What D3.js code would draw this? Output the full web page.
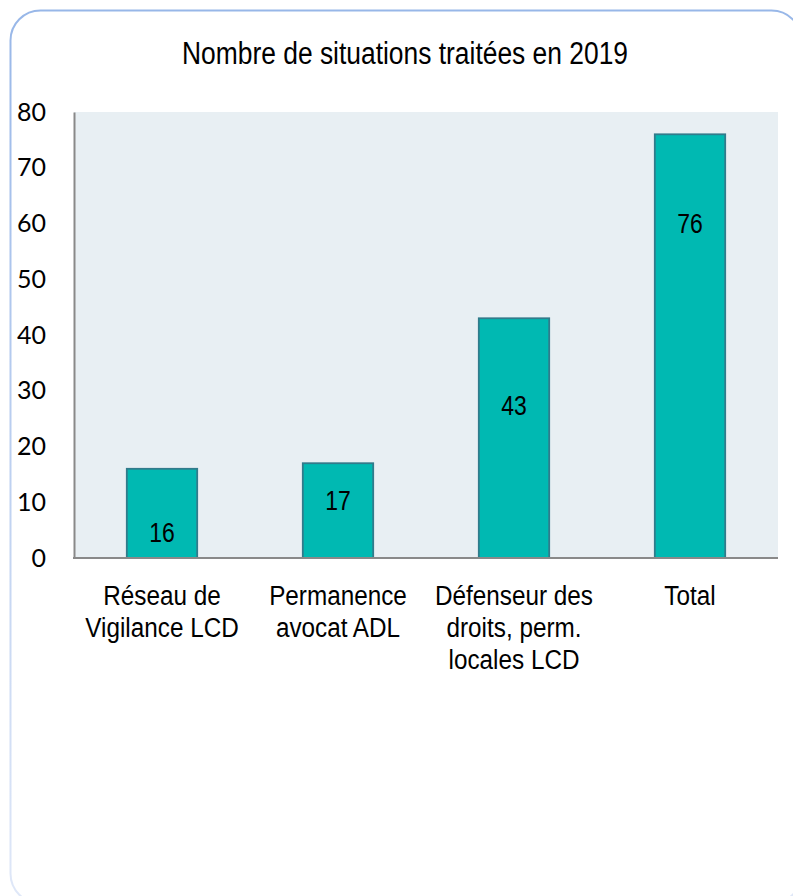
<!DOCTYPE html>
<html>
<head>
<meta charset="utf-8">
<script src="https://cdn.jsdelivr.net/npm/d3@7"></script>
<style>
  html, body { margin: 0; padding: 0; background: #ffffff; }
  svg { display: block; }
</style>
</head>
<body>
<svg id="chart" width="793" height="896"></svg>
<script>
// Data
const categories = [
  ["Réseau de", "Vigilance LCD"],
  ["Permanence", "avocat ADL"],
  ["Défenseur des", "droits, perm.", "locales LCD"],
  ["Total"]
];
const values = [16, 17, 43, 76];
const yTicks = [0, 10, 20, 30, 40, 50, 60, 70, 80];
const titleText = "Nombre de situations traitées en 2019";

// Where each value label sits, as a share of its bar's height
const labelShare = [0.29, 0.61, 0.64, 0.79];

const svg = d3.select("#chart");
const plot = { left: 74, top: 112, right: 778, bottom: 558 };
const narrowFont = "'Liberation Sans', Arial, sans-serif";

// Frame with a fading blue border
const defs = svg.append("defs");
const grad = defs.append("linearGradient")
  .attr("id", "frameGrad").attr("x1", 0).attr("y1", 0).attr("x2", 0).attr("y2", 1);
grad.append("stop").attr("offset", "0%").attr("stop-color", "#98b7e8");
grad.append("stop").attr("offset", "100%").attr("stop-color", "#e0e8f8");

svg.append("rect")
  .attr("x", 10.5).attr("y", 10.5)
  .attr("width", 791).attr("height", 893)
  .attr("rx", 30).attr("ry", 30)
  .attr("fill", "#ffffff")
  .attr("stroke", "url(#frameGrad)")
  .attr("stroke-width", 2);

// Title (slightly condensed face)
svg.append("text")
  .attr("x", 405).attr("y", 64)
  .attr("text-anchor", "middle")
  .attr("font-family", narrowFont)
  .attr("font-size", 31)
  .attr("textLength", 446)
  .attr("lengthAdjust", "spacingAndGlyphs")
  .attr("fill", "#000")
  .text(titleText);

// Scales
const x = d3.scaleBand()
  .domain(d3.range(categories.length))
  .range([plot.left, plot.right])
  .paddingInner(0.6)
  .paddingOuter(0.3);

const y = d3.scaleLinear()
  .domain([0, 80])
  .range([plot.bottom, plot.top]);

// Plot background
svg.append("rect")
  .attr("x", plot.left).attr("y", plot.top)
  .attr("width", plot.right - plot.left)
  .attr("height", plot.bottom - plot.top)
  .attr("fill", "#e8eff3");

// Bars
svg.append("g").selectAll("rect")
  .data(values)
  .join("rect")
  .attr("x", (d, i) => x(i))
  .attr("y", d => y(d))
  .attr("width", x.bandwidth())
  .attr("height", d => y(0) - y(d))
  .attr("fill", "#00b9b2")
  .attr("stroke", "#317b8b")
  .attr("stroke-width", 1.8);

// Value labels
svg.append("g").selectAll("text")
  .data(values)
  .join("text")
  .attr("transform", (d, i) =>
    `translate(${x(i) + x.bandwidth() / 2},${y(d * labelShare[i]) + 10}) scale(0.82,1)`)
  .attr("text-anchor", "middle")
  .attr("font-family", narrowFont)
  .attr("font-size", 28)
  .attr("fill", "#000")
  .text(d => d);

// Y axis
const yAxis = d3.axisLeft(y).tickValues(yTicks).tickSize(0).tickPadding(28);
const gy = svg.append("g")
  .attr("transform", `translate(${plot.left},0)`)
  .call(yAxis);
gy.select(".domain").attr("stroke", "#898989").attr("stroke-width", 2);
gy.selectAll("text")
  .attr("font-family", "Lato, 'Open Sans', sans-serif")
  .attr("font-size", 25)
  .attr("fill", "#000");

// X axis line
const xAxis = d3.axisBottom(x).tickSize(0).tickFormat("");
const gx = svg.append("g")
  .attr("transform", `translate(0,${plot.bottom})`)
  .call(xAxis);
gx.select(".domain").attr("stroke", "#898989").attr("stroke-width", 2)
  .attr("d", `M${plot.left - 1},0H${plot.right}`);

// Category labels, one line each
const catG = svg.append("g");
categories.forEach((lines, i) => {
  const cx = x(i) + x.bandwidth() / 2;
  const t = catG.append("text")
    .attr("transform", `translate(${cx},605) scale(0.9,1)`)
    .attr("text-anchor", "middle")
    .attr("font-family", narrowFont)
    .attr("font-size", 27)
    .attr("fill", "#000");
  lines.forEach((line, j) => {
    t.append("tspan")
      .attr("x", 0)
      .attr("y", j * 32)
      .text(line);
  });
});
</script>
</body>
</html>
